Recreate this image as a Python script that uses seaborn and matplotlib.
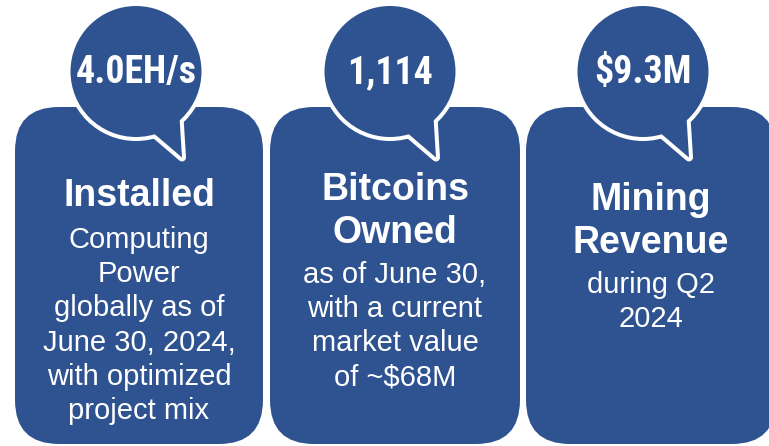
import matplotlib
matplotlib.use("Agg")
import matplotlib.pyplot as plt
from matplotlib import font_manager as fm
from matplotlib.patches import FancyBboxPatch, Circle, Polygon
import seaborn as sns

# ---- content ----
values = ["4.0EH/s", "1,114", "$9.3M"]
titles = [["Installed"], ["Bitcoins", "Owned"], ["Mining", "Revenue"]]
details = [
    ["Computing", "Power", "globally as of", "June 30, 2024,", "with optimized", "project mix"],
    ["as of June 30,", "with a current", "market value", "of ~$68M"],
    ["during Q2", "2024"],
]

# ---- layout ----
W, H = 769, 446
BLUE = "#2F5391"
card_x = [(15, 263), (270, 520), (526, 776)]
card_top, card_bottom = 107, 444
radius = 44
circ_cx = [136, 390, 643]
circ_cy = 71.5
circ_r = 65.5
widest_value_px = 121             # width of the widest big number
title_bases = [[206], [200, 243], [210, 253]]
body_step = 34.2

sns.set_theme(style="white")
plt.rcParams["font.family"] = ["Liberation Sans", "DejaVu Sans"]

# pick a condensed bold face for the big numbers if one is installed
def find_condensed():
    prefs = ["liberation sans narrow", "roboto condensed", "open sans condensed",
             "dejavu sans condensed", "noto sans condensed", "condensed", "narrow"]
    cands = []
    for f in fm.fontManager.ttflist:
        key = (f.name + " " + f.fname).lower()
        if ("condensed" in key or "narrow" in key) and "italic" not in key and "oblique" not in key:
            w = f.weight if isinstance(f.weight, int) else (700 if "bold" in str(f.weight) else 400)
            if "bold" in key:
                w = max(w, 700)
            if w >= 600:
                rank = next((k for k, p in enumerate(prefs) if p in key), len(prefs))
                cands.append((rank, f.fname))
    if cands:
        cands.sort()
        return fm.FontProperties(fname=cands[0][1])
    return fm.FontProperties(family="Liberation Sans", weight="bold")

num_fp = find_condensed()

fig = plt.figure(figsize=(W / 100, H / 100), dpi=100)
ax = fig.add_axes([0, 0, 1, 1])
ax.set_xlim(0, W)
ax.set_ylim(H, 0)
ax.set_axis_off()
ax.set_clip_on(True)
renderer = fig.canvas.get_renderer()

# common font size for the big numbers, fitted so the widest one has the target width
probe_fp = num_fp.copy()
probe_fp.set_size(30)
widths = []
for v in values:
    t = fig.text(0, 0, v, fontproperties=probe_fp)
    widths.append(t.get_window_extent(renderer).width)
    t.remove()
num_fs = 30 * widest_value_px / max(widths)

pt = 72 / 100  # px -> points
for i, val in enumerate(values):
    x0, x1 = card_x[i]
    ax.add_patch(FancyBboxPatch((x0, card_top), x1 - x0, card_bottom - card_top,
                                boxstyle=f"round,pad=0,rounding_size={radius}",
                                fc=BLUE, ec="none", zorder=1))
    cx = circ_cx[i]
    tail = [(cx + 12, circ_cy + 57), (cx + 46, circ_cy + 86), (cx + 43, circ_cy + 38)]
    ax.add_patch(Polygon(tail, closed=True, fc=BLUE, ec="white", lw=8 * pt, joinstyle="round", zorder=2))
    ax.add_patch(Circle((cx, circ_cy), circ_r, fc=BLUE, ec="white", lw=8 * pt, zorder=3))
    ax.add_patch(Circle((cx, circ_cy), circ_r, fc=BLUE, ec="none", zorder=4))
    ax.add_patch(Polygon(tail, closed=True, fc=BLUE, ec="none", zorder=5))

    fp = num_fp.copy()
    fp.set_size(num_fs)
    ax.text(cx, circ_cy + 1, val, ha="center", va="center", color="white",
            fontproperties=fp, zorder=6)

    xc = (x0 + x1) / 2
    for j, tt in enumerate(titles[i]):
        ax.text(xc, title_bases[i][j], tt, ha="center", va="baseline", color="white",
                fontsize=27, fontweight="bold", zorder=6)
    y = title_bases[i][-1] + (42 if len(titles[i]) == 1 else 40)
    for d in details[i]:
        ax.text(xc, y, d, ha="center", va="baseline", color="white", fontsize=21, zorder=6)
        y += body_step

fig.savefig("out.png", dpi=100, facecolor="white")
